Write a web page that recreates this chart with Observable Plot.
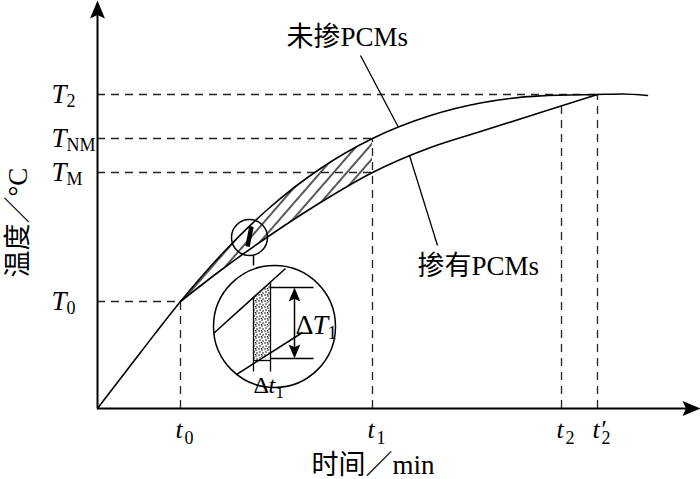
<!DOCTYPE html>
<html><head><meta charset="utf-8">
<script src="https://cdn.jsdelivr.net/npm/d3@7"></script>
<script src="https://cdn.jsdelivr.net/npm/@observablehq/plot@0.6"></script>
<style>body{margin:0;background:#fff}svg{display:block}</style>
</head><body><div id="chart"></div>
<script>
// ---- schematic data (time units on x, temperature units on y) ----
const timeGrid     = [0, 43, 83, 123, 170, 223, 275, 333, 383, 443, 500, 525, 550];
const tempUndoped  = [0, 56, 107, 153, 199, 240, 270, 293, 305.5, 312.6, 314, 314.5, 313];
const tempDoped    = [null, null, 107, 138, 171.5, 206, 236, 261, 277, 296, 314, null, null];

// time ticks t0, t1, t2, t2'
const timeTickValues = [83, 275, 464, 500];
const timeTickSubs   = ["0", "1", "2", "2"];
const timeTickMain   = ["t", "t", "t", "t′"];
const timeGuideTop   = [107, 270, 305, 314];

// temperature ticks T2, TNM, TM, T0
const tempTickValues = [314, 270, 236, 107];
const tempTickSubs   = ["2", "NM", "M", "0"];
const tempGuideEnd   = [500, 275, 275, 83];

// axis titles
const xTitle = "时间／min";
const yTitle = "温度／°C";

// curve labels with leader lines
const labelText  = ["未掺PCMs", "掺有PCMs"];
const labelX     = [189, 320];
const labelY     = [363, 134];
const leaderFrom = [[263, 353], [340, 163]];
const leaderTo   = [[301, 281], [312, 253]];

// magnifier (zoomed detail)
const smallLens = {x: 152, y: 171, r: 18};
const bigLens   = {x: 177, y: 82, r: 61};
const lensMark  = [[154, 182], [150, 162]];
const lensStem  = [[156, 153], [156, 143]];
const zoomUndoped = [[116, 75], [188, 140]];
const zoomDoped   = [[139, 34], [205, 76]];
const dtSpan  = [156, 173];
const dtTickBottom = 37;
const dtBar = 48;
const dTBounds = [50, 121];
const dTLinesX = [173, 216];
const dTArrowX = 197;

const FONT_LATIN = "Liberation Serif, Times New Roman, serif";
const FONT_MIXED = "Liberation Serif, Noto Sans CJK SC, serif";

// ---- derived tables ----
const undoped = timeGrid.map((x, i) => ({x, y: tempUndoped[i]}));
const doped = timeGrid.map((x, i) => ({x, y: tempDoped[i]})).filter(d => d.y != null);
const hatch = timeGrid.map((x, i) => ({x, lo: tempDoped[i], hi: tempUndoped[i]}))
  .filter(d => d.lo != null && d.x >= timeTickValues[0] && d.x <= timeTickValues[1]);
const timeTicks = timeTickValues.map((v, i) => ({v, sub: timeTickSubs[i], main: timeTickMain[i], top: timeGuideTop[i]}));
const tempTicks = tempTickValues.map((v, i) => ({v, sub: tempTickSubs[i], end: tempGuideEnd[i]}));
const labels = labelText.map((t, i) => ({t, x: labelX[i], y: labelY[i]}));
const leaders = leaderFrom.map((f, i) => ({x1: f[0], y1: f[1], x2: leaderTo[i][0], y2: leaderTo[i][1]}));
const lineAt = (seg, x) => seg[0][1] + (x - seg[0][0]) * (seg[1][1] - seg[0][1]) / (seg[1][0] - seg[0][0]);
const stipple = dtSpan.map(x => ({x, lo: lineAt(zoomDoped, x), hi: lineAt(zoomUndoped, x)}));
const seg = (a, b) => ({x1: a[0], y1: a[1], x2: b[0], y2: b[1]});

function arrowHead(dir) {
  const a = {up: 0, right: Math.PI / 2, down: Math.PI}[dir];
  return {
    draw(ctx, size) {
      const r = Math.sqrt(size / Math.PI);
      const L = 2 * r, W = 0.83 * r, N = 1.6 * r;
      const pts = [[0, 0], [-W, L], [0, N], [W, L]];
      const c = Math.cos(a), s = Math.sin(a);
      pts.forEach(([px, py], i) => {
        const X = px * c - py * s, Y = px * s + py * c;
        i ? ctx.lineTo(X, Y) : ctx.moveTo(X, Y);
      });
      ctx.closePath();
    }
  };
}

const dash = "8,6";
const svg = Plot.plot({
  width: 700, height: 479,
  marginLeft: 97, marginRight: 2, marginTop: 0, marginBottom: 71,
  x: {domain: [0, 601], axis: null},
  y: {domain: [0, 408], axis: null},
  style: {background: "white", overflow: "visible"},
  marks: [
    Plot.areaY(hatch, {x: "x", y1: "lo", y2: "hi", fill: "url(#hatch)", curve: "monotone-x"}),
    Plot.ruleY(tempTicks, {y: "v", x1: 0, x2: "end", stroke: "#222", strokeWidth: 1.3, strokeDasharray: dash}),
    Plot.ruleX(timeTicks, {x: "v", y1: 0, y2: "top", stroke: "#222", strokeWidth: 1.3, strokeDasharray: dash}),
    Plot.line(undoped, {x: "x", y: "y", curve: "monotone-x", stroke: "black", strokeWidth: 1.6}),
    Plot.line(doped, {x: "x", y: "y", curve: "monotone-x", stroke: "black", strokeWidth: 1.6}),
    Plot.link(leaders, {x1: "x1", y1: "y1", x2: "x2", y2: "y2", stroke: "black", strokeWidth: 1.3}),
    // axes
    Plot.ruleY([0], {x1: 0, x2: 590, stroke: "black", strokeWidth: 2}),
    Plot.ruleX([0], {y1: 0, y2: 395, stroke: "black", strokeWidth: 2}),
    Plot.dot([{x: 603, y: 0}], {x: "x", y: "y", r: 9, symbol: arrowHead("right"), fill: "black", stroke: "none"}),
    Plot.dot([{x: 0, y: 408}], {x: "x", y: "y", r: 9, symbol: arrowHead("up"), fill: "black", stroke: "none"}),
    // magnifier
    Plot.dot([smallLens], {x: "x", y: "y", r: smallLens.r, fill: "none", stroke: "black", strokeWidth: 1.5}),
    Plot.link([seg(lensMark[0], lensMark[1])], {x1: "x1", y1: "y1", x2: "x2", y2: "y2", stroke: "black", strokeWidth: 4.5}),
    Plot.link([seg(lensStem[0], lensStem[1])], {x1: "x1", y1: "y1", x2: "x2", y2: "y2", stroke: "black", strokeWidth: 1.5}),
    Plot.dot([bigLens], {x: "x", y: "y", r: bigLens.r, fill: "white", stroke: "black", strokeWidth: 1.5}),
    Plot.areaY(stipple, {x: "x", y1: "lo", y2: "hi", fill: "url(#stipple)"}),
    Plot.link([seg(zoomUndoped[0], zoomUndoped[1]), seg(zoomDoped[0], zoomDoped[1])], {x1: "x1", y1: "y1", x2: "x2", y2: "y2", stroke: "black", strokeWidth: 1.5}),
    Plot.link(stipple, {x1: "x", x2: "x", y1: "hi", y2: dtTickBottom, stroke: "black", strokeWidth: 1.3}),
    Plot.link([{x1: dtSpan[0], x2: dtSpan[1], y: dtBar}], {x1: "x1", x2: "x2", y1: "y", y2: "y", stroke: "black", strokeWidth: 1.3}),
    Plot.link(dTBounds.map(y => ({y})), {x1: dTLinesX[0], x2: dTLinesX[1], y1: "y", y2: "y", stroke: "black", strokeWidth: 1.3}),
    Plot.link([{y1: dTBounds[0] + 10, y2: dTBounds[1] - 10}], {x1: dTArrowX, x2: dTArrowX, y1: "y1", y2: "y2", stroke: "black", strokeWidth: 1.5}),
    Plot.dot([{y: dTBounds[1]}], {x: dTArrowX, y: "y", r: 7, symbol: arrowHead("up"), fill: "black", stroke: "none"}),
    Plot.dot([{y: dTBounds[0]}], {x: dTArrowX, y: "y", r: 7, symbol: arrowHead("down"), fill: "black", stroke: "none"}),
    // tick labels
    Plot.text(tempTicks, {x: 0, y: "v", text: () => "T", textAnchor: "end", lineAnchor: "bottom", dx: -31, dy: 8, fontFamily: FONT_LATIN, fontStyle: "italic", fontSize: 27}),
    Plot.text(tempTicks, {x: 0, y: "v", text: "sub", textAnchor: "start", lineAnchor: "bottom", dx: -31, dy: 12, fontFamily: FONT_LATIN, fontSize: 18}),
    Plot.text(timeTicks, {x: "v", y: 0, text: "main", textAnchor: "start", lineAnchor: "bottom", dx: -5, dy: 29, fontFamily: FONT_LATIN, fontStyle: "italic", fontSize: 26}),
    Plot.text(timeTicks, {x: "v", y: 0, text: "sub", textAnchor: "start", lineAnchor: "bottom", dx: 4, dy: 35, fontFamily: FONT_LATIN, fontSize: 18}),
    // curve labels
    Plot.text(labels, {x: "x", y: "y", text: "t", textAnchor: "start", lineAnchor: "bottom", fontFamily: FONT_MIXED, fontSize: 27}),
    // delta labels
    Plot.text([{x: dTArrowX + 1, y: 75}], {x: "x", y: "y", text: () => "Δ", textAnchor: "start", lineAnchor: "bottom", fontFamily: FONT_LATIN, fontSize: 28}),
    Plot.text([{x: dTArrowX + 1, y: 75}], {x: "x", y: "y", text: () => "T", textAnchor: "start", lineAnchor: "bottom", dx: 17, fontFamily: FONT_LATIN, fontStyle: "italic", fontSize: 28}),
    Plot.text([{x: dTArrowX + 1, y: 75}], {x: "x", y: "y", text: () => "1", textAnchor: "start", lineAnchor: "bottom", dx: 32, dy: 5, fontFamily: FONT_LATIN, fontSize: 19}),
    Plot.text([{x: dtSpan[0], y: 16}], {x: "x", y: "y", text: () => "Δ", textAnchor: "start", lineAnchor: "bottom", fontFamily: FONT_LATIN, fontSize: 24}),
    Plot.text([{x: dtSpan[0], y: 16}], {x: "x", y: "y", text: () => "t", textAnchor: "start", lineAnchor: "bottom", dx: 15, fontFamily: FONT_LATIN, fontStyle: "italic", fontSize: 24}),
    Plot.text([{x: dtSpan[0], y: 16}], {x: "x", y: "y", text: () => "1", textAnchor: "start", lineAnchor: "bottom", dx: 22, dy: 5, fontFamily: FONT_LATIN, fontSize: 17}),
    // axis titles
    Plot.text([{x: 214, y: -65}], {x: "x", y: "y", text: () => xTitle, textAnchor: "start", lineAnchor: "bottom", fontFamily: FONT_MIXED, fontSize: 27}),
    Plot.text([{x: -79, y: 131}], {x: "x", y: "y", text: () => yTitle, rotate: -90, textAnchor: "start", lineAnchor: "middle", fontFamily: FONT_MIXED, fontSize: 27})
  ]
});

// patterns used by the hatched band and the stippled strip
const defs = d3.select(svg).insert("defs", ":first-child");
const hp = defs.append("pattern").attr("id", "hatch").attr("patternUnits", "userSpaceOnUse")
  .attr("width", 10).attr("height", 10).attr("patternTransform", "rotate(41)");
hp.append("line").attr("x1", 5).attr("y1", -1).attr("x2", 5).attr("y2", 11).attr("stroke", "black").attr("stroke-width", 1.3);
const sp = defs.append("pattern").attr("id", "stipple").attr("patternUnits", "userSpaceOnUse")
  .attr("width", 6).attr("height", 6);
[[1, 1], [4, 2], [2, 4], [5, 5], [3.5, 0.2]].forEach(([cx, cy]) =>
  sp.append("circle").attr("cx", cx).attr("cy", cy).attr("r", 0.8).attr("fill", "black"));

document.getElementById("chart").appendChild(svg);
</script></body></html>
